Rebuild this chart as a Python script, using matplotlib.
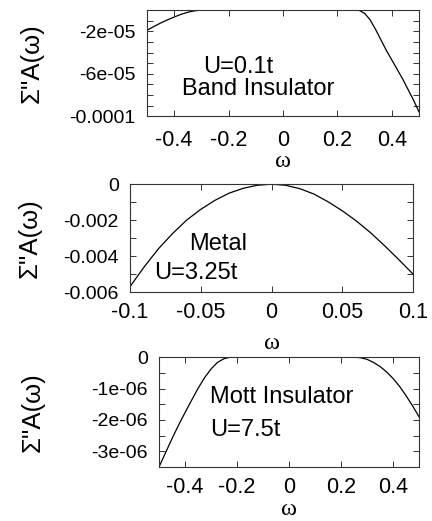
import matplotlib
matplotlib.use("Agg")
from matplotlib import pyplot as plt
from matplotlib.ticker import MultipleLocator

plt.rcParams["font.family"] = ["Liberation Sans", "DejaVu Sans"]

#data area
w_band = [-0.5, -0.475, -0.45, -0.425, -0.4, -0.375, -0.35, -0.325, -0.3, 0.27, 0.28, 0.3, 0.32, 0.34, 0.36, 0.38, 0.4, 0.42, 0.44, 0.46, 0.48, 0.5]
s_band = [-1.9e-5, -1.55e-5, -1.22e-5, -0.92e-5, -0.65e-5, -0.4e-5, -0.2e-5, -0.06e-5, 0.0, 0.0, -0.02e-5, -0.3e-5, -0.9e-5, -1.8e-5, -2.8e-5, -3.8e-5, -4.7e-5, -5.6e-5, -6.5e-5, -7.5e-5, -8.5e-5, -9.6e-5]

w_metal = [-0.1, -0.09, -0.08, -0.07, -0.06, -0.05, -0.04, -0.03, -0.02, -0.01, 0.0, 0.01, 0.02, 0.03, 0.04, 0.05, 0.06, 0.07, 0.08, 0.09, 0.1]
s_metal = [-0.0057, -0.0046, -0.0036, -0.00275, -0.002, -0.0014, -0.0009, -0.0005, -0.00023, -0.00006, 0.0, -0.00006, -0.00025, -0.00055, -0.00098, -0.00148, -0.00205, -0.0027, -0.00343, -0.0042, -0.005]

w_mott = [-0.5, -0.475, -0.45, -0.425, -0.4, -0.375, -0.35, -0.325, -0.3, -0.275, -0.25, -0.225, 0.25, 0.275, 0.3, 0.325, 0.35, 0.375, 0.4, 0.425, 0.45, 0.475, 0.5]
s_mott = [-3.5e-6, -3.05e-6, -2.6e-6, -2.17e-6, -1.77e-6, -1.38e-6, -1.0e-6, -0.66e-6, -0.38e-6, -0.17e-6, -0.05e-6, 0.0, 0.0, -0.02e-6, -0.07e-6, -0.17e-6, -0.3e-6, -0.47e-6, -0.68e-6, -0.93e-6, -1.23e-6, -1.55e-6, -1.9e-6]

xt_band = [-0.4, -0.2, 0, 0.2, 0.4]
xl_band = ["-0.4", "-0.2", "0", "0.2", "0.4"]
yt_band = [-1e-4, -6e-5, -2e-5]
yl_band = ["-0.0001", "-6e-05", "-2e-05"]

xt_metal = [-0.1, -0.05, 0, 0.05, 0.1]
xl_metal = ["-0.1", "-0.05", "0", "0.05", "0.1"]
yt_metal = [-0.006, -0.004, -0.002, 0]
yl_metal = ["-0.006", "-0.004", "-0.002", "0"]

xt_mott = [-0.4, -0.2, 0, 0.2, 0.4]
xl_mott = ["-0.4", "-0.2", "0", "0.2", "0.4"]
yt_mott = [-3e-6, -2e-6, -1e-6, 0]
yl_mott = ["-3e-06", "-2e-06", "-1e-06", "0"]

ylab = "\u03a3''A(\u03c9)"
xlab = "\u03c9"

#figure area
fig = plt.figure(figsize=(4.32, 5.21), dpi=100)

def setup(ax, xt, xl, yt, yl, ymin_step, xlim, ylim, ylab_x, xlab_y):
  ax.set_xlim(xlim)
  ax.set_ylim(ylim)
  ax.set_xticks(xt)
  ax.set_xticklabels(xl, fontsize=15.5)
  ax.set_yticks(yt)
  ax.set_yticklabels(yl, fontsize=14)
  ax.yaxis.set_minor_locator(MultipleLocator(ymin_step))
  ax.tick_params(which="both", direction="in", top=True, right=True, length=4, width=0.7, color="#333333")
  ax.tick_params(axis="x", pad=7)
  ax.tick_params(axis="y", pad=8)
  for s in ax.spines.values():
    s.set_linewidth(0.8)
    s.set_color("#333333")
  ax.set_ylabel(ylab, fontsize=18.5)
  ax.yaxis.set_label_coords(ylab_x, 0.5)
  ax.set_xlabel(xlab, fontsize=17.5, family=["Liberation Serif", "DejaVu Serif"], va="center")
  ax.xaxis.set_label_coords(0.5, xlab_y)

ax1 = fig.add_axes([0.340, 0.777, 0.630, 0.2035])
ax1.plot(w_band, s_band, color="black", lw=0.9)
setup(ax1, xt_band, xl_band, yt_band, yl_band, 1e-5, (-0.5, 0.5), (-1e-4, 0), -0.379, -0.43)
ax1.tick_params(axis="x", pad=10)
ax1.text(-0.165, -5.4e-5, "U=0.1t", fontsize=17, ha="center", va="center")
ax1.text(-0.092, -7.4e-5, "Band Insulator", fontsize=17, ha="center", va="center")

ax2 = fig.add_axes([0.301, 0.4395, 0.655, 0.207])
ax2.plot(w_metal, s_metal, color="black", lw=0.9)
setup(ax2, xt_metal, xl_metal, yt_metal, yl_metal, 0.001, (-0.1, 0.1), (-0.006, 0), -0.311, -0.48)
ax2.text(-0.0378, -0.00333, "Metal", fontsize=17, ha="center", va="center")
ax2.text(-0.0534, -0.00494, "U=3.25t", fontsize=17, ha="center", va="center")

ax3 = fig.add_axes([0.368, 0.1036, 0.602, 0.211])
ax3.plot(w_mott, s_mott, color="black", lw=0.9)
setup(ax3, xt_mott, xl_mott, yt_mott, yl_mott, 5e-7, (-0.5, 0.5), (-3.5e-6, 0), -0.438, -0.39)
ax3.text(-0.304, -1.27e-6, "Mott Insulator", fontsize=17, ha="left", va="center")
ax3.text(-0.304, -2.32e-6, "U=7.5t", fontsize=17, ha="left", va="center")

plt.savefig("out.png", dpi=100)
